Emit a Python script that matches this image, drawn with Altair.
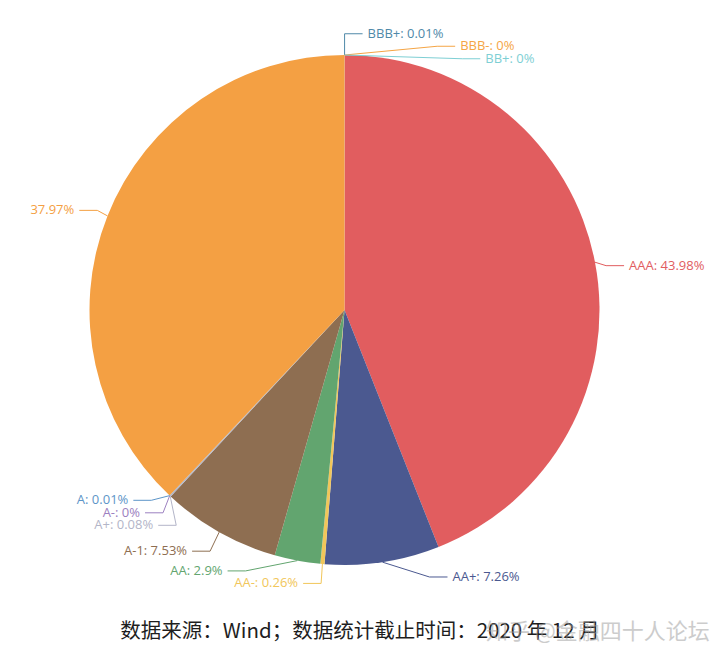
import math
import altair as alt
import pandas as pd

# ---------------- data ----------------
names = ["BBB+", "BBB-", "BB+", "AAA", "AA+", "AA-", "AA", "A-1", "A+", "A-", "A", ""]
values = [0.01, 0, 0, 43.98, 7.26, 0.26, 2.9, 7.53, 0.08, 0, 0.01, 37.97]
colors = ["#4f89a9", "#f5a545", "#7ecfd4", "#e15d5f", "#4b5990", "#f1c65a",
          "#62a56f", "#8e6e51", "#b3b5c8", "#9c80c0", "#5d95c8", "#f4a043"]
caption = "数据来源：Wind；数据统计截止时间：2020 年 12 月"
watermark = "知乎 @金融四十人论坛"

# ---------------- layout params ----------------
W, H = 704, 642
CX, CY = 336.5, 302.0
R = 255
L1, L2, GAP, LH = 15, 18, 5, 12.5


def fmt(v):
    return ("%g" % v)


total = sum(values)
items = []
cum = 0.0
for i, (n, v) in enumerate(zip(names, values)):
    a0 = cum / total * 2 * math.pi
    cum += v
    a1 = cum / total * 2 * math.pi
    mid = (a0 + a1) / 2
    sx, sy = math.sin(mid), -math.cos(mid)
    x1, y1 = CX + R * sx, CY + R * sy
    x2, y2 = CX + (R + L1) * sx, CY + (R + L1) * sy
    d = -1 if sx < 0 else 1
    x3 = x2 + d * L2
    tx = x3 + d * GAP
    label = (n + ": " if n else "") + fmt(v) + "%"
    items.append(dict(idx=i, name=n, value=v, color=colors[i], label=label,
                      x1=x1, y1=y1, tx=tx, ty=y2, d=d))


def adjust(lst, d, view_top=0.0, view_h=float(H)):
    lst.sort(key=lambda it: it["ty"])
    n = len(lst)

    def shift_up(end, delta):
        for j in range(end, -1, -1):
            if lst[j]["ty"] - delta < view_top:
                break
            lst[j]["ty"] -= delta
            if j > 0 and lst[j]["ty"] > lst[j - 1]["ty"] + LH:
                break

    def shift_down(start, end, delta):
        for j in range(start, end):
            if lst[j]["ty"] + delta > view_top + view_h:
                break
            lst[j]["ty"] += delta
            if j > start and j + 1 < end and lst[j + 1]["ty"] > lst[j]["ty"] + LH:
                shift_up(j, delta / 2)
                return
        shift_up(end - 1, delta / 2)

    last_y = 0.0
    for i in range(n):
        delta = lst[i]["ty"] - last_y
        if delta < 0:
            shift_down(i, n, -delta)
        last_y = lst[i]["ty"] + LH
    if view_h - last_y < 0:
        shift_up(n - 1, last_y - view_h)

    def change_x(sub, is_down):
        last = float("inf") if is_down else 0.0
        for it in sub:
            dy = abs(it["ty"] - CY)
            if dy < R + L1:
                dxv = math.sqrt((R + L1 + L2) ** 2 - dy ** 2)
            else:
                dxv = abs(it["tx"] - CX)
            if is_down and dxv >= last:
                dxv = last - 10
            if (not is_down) and dxv <= last:
                dxv = last + 10
            it["tx"] = CX + dxv * d
            last = dxv

    change_x([it for it in lst if it["ty"] < CY], False)
    change_x([it for it in lst if it["ty"] >= CY], True)


adjust([it for it in items if it["d"] > 0], 1)
adjust([it for it in items if it["d"] < 0], -1)

segs = []
for it in items:
    d = it["d"]
    x3 = it["tx"] - d * GAP
    x2 = x3 - d * L2
    segs.append(dict(xa=it["x1"], ya=it["y1"], xb=x2, yb=it["ty"], color=it["color"]))
    segs.append(dict(xa=x2, ya=it["ty"], xb=x3, yb=it["ty"], color=it["color"]))

pie_df = pd.DataFrame(items)
seg_df = pd.DataFrame(segs)

xs = alt.Scale(domain=[0, W], range=[0, W])
ys = alt.Scale(domain=[0, H], range=[0, H])

arcs = alt.Chart(pie_df).mark_arc(outerRadius=R, stroke=None).encode(
    theta=alt.Theta("value:Q", stack=True),
    order=alt.Order("idx:Q"),
    color=alt.Color("color:N", scale=None, legend=None),
    x=alt.value(CX),
    y=alt.value(CY),
)

rules = alt.Chart(seg_df).mark_rule(strokeWidth=1).encode(
    x=alt.X("xa:Q", scale=xs, axis=None),
    y=alt.Y("ya:Q", scale=ys, axis=None),
    x2="xb:Q",
    y2="yb:Q",
    color=alt.Color("color:N", scale=None, legend=None),
)


def label_layer(side, align):
    return alt.Chart(pie_df[pie_df["d"] == side]).mark_text(
        align=align, baseline="middle", fontSize=13, font="Open Sans"
    ).encode(
        x=alt.X("tx:Q", scale=xs, axis=None),
        y=alt.Y("ty:Q", scale=ys, axis=None),
        text="label:N",
        color=alt.Color("color:N", scale=None, legend=None),
    )


cap_df = pd.DataFrame({"t": [caption]})
wm_df = pd.DataFrame({"t": [watermark]})

cap = alt.Chart(cap_df).mark_text(
    align="center", baseline="middle", fontSize=20.5, font="Noto Sans CJK SC", color="#1e1e1e"
).encode(text="t:N", x=alt.value(W / 2), y=alt.value(624))

wm = alt.Chart(wm_df).mark_text(
    align="left", baseline="middle", fontSize=22, font="Noto Sans CJK SC",
    color="#9a9a9a", opacity=0.5
).encode(text="t:N", x=alt.value(478), y=alt.value(624))

chart = alt.layer(arcs, rules, label_layer(1, "left"), label_layer(-1, "right"), cap, wm).properties(
    width=W, height=H, autosize=alt.AutoSizeParams(type="none"), padding=0
).configure_view(stroke=None)

chart.save("out.html", embed_options={"renderer": "svg", "actions": False})
